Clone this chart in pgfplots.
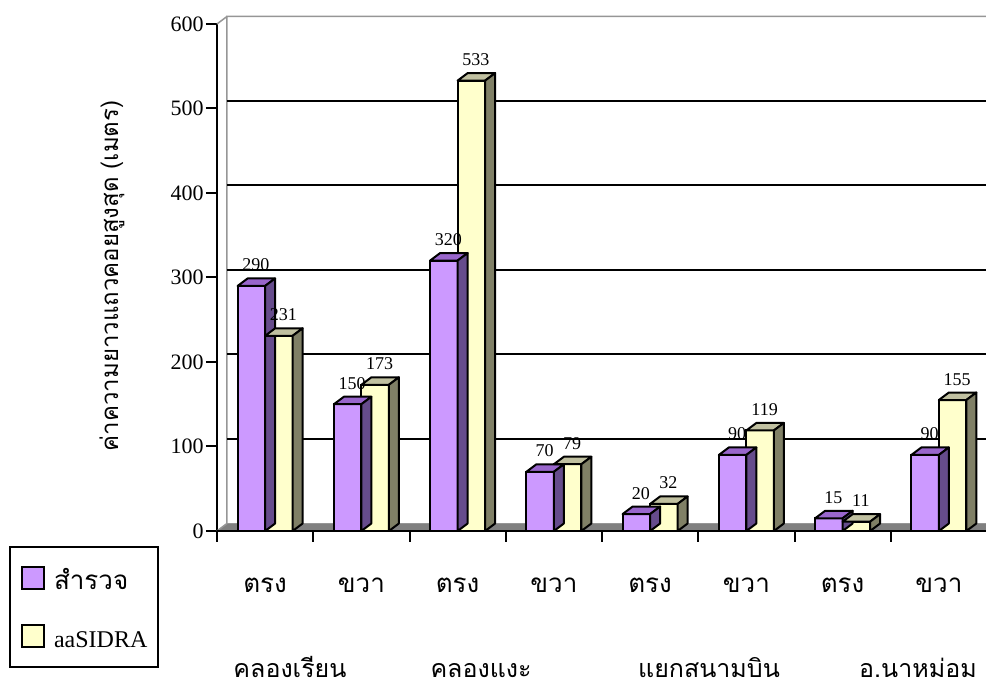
\documentclass[border=0pt]{standalone}
\usepackage{fontspec}
\setmainfont{Liberation Serif}
\newfontfamily\thaifont[Script=Thai]{Loma}
\usepackage{pgfplots}
\pgfplotsset{compat=1.18}
\usepackage{pgfplotstable}

\definecolor{surveyfront}{HTML}{CC99FF}
\definecolor{surveytop}{HTML}{9966CC}
\definecolor{surveyside}{HTML}{664C8C}
\definecolor{sidrafront}{HTML}{FFFFCC}
\definecolor{sidratop}{HTML}{C0C0A0}
\definecolor{sidraside}{HTML}{808066}
\definecolor{floorgrey}{HTML}{808080}
\definecolor{wallgrey}{HTML}{969696}

% maximum queue length (m): survey vs. aaSIDRA
\pgfplotstableread{
pos survey sidra
0 290 231
1 150 173
2 320 533
3 70 79
4 20 32
5 90 119
6 15 11
7 90 155
}\queuedata

% bar geometry
\def\barhalf{6.875pt}
\def\depthx{5pt}
\def\depthy{3.75pt}
\def\yunitnum{0.4225}

\pgfplotsset{
  front bar/.style n args={3}{% fill, bar shift, label shift
    ybar, bar width=13.75pt, bar shift=#2,
    fill=#1, draw=black, line width=1pt,
    nodes near coords,
    nodes near coords style={font=\fontsize{9}{10}\selectfont, anchor=base,
      xshift=#3, yshift=7.5pt, text=black, inner sep=0pt},
    legend image code/.code={\draw[fill=#1, draw=black, line width=1pt]
      (0pt,-5.5pt) rectangle (11pt,5.5pt);},
  },
  bar depth/.style n args={3}{% top colour, side colour, centre offset
    forget plot, only marks, scatter, point meta=y,
    mark=text, text mark={},
    visualization depends on={rawy \as \barval},
    scatter/@pre marker code/.code={%
      \pgfkeys{/pgf/fpu=true,/pgf/fpu/output format=fixed}%
      \pgfmathparse{\barval*\yunitnum}%
      \let\barhnum\pgfmathresult
      \pgfkeys{/pgf/fpu=false}%
      \filldraw[fill=#1, draw=black, line width=1pt, line join=round]
        (#3-\barhalf,0pt) -- ++(\depthx,\depthy) -- ++(2*\barhalf,0pt)
        -- ++(-\depthx,-\depthy) -- cycle;
      \filldraw[fill=#2, draw=black, line width=1pt, line join=round]
        (#3+\barhalf,0pt) -- ++(\depthx,\depthy) -- ++(0pt,-\barhnum pt)
        -- ++(-\depthx,-\depthy) -- cycle;
    },
    scatter/@post marker code/.code={},
  },
}

\begin{document}
\begin{tikzpicture}
\useasboundingbox (0pt,0pt) rectangle (493pt,341.5pt);
\begin{axis}[
  at={(108.5pt,76pt)}, anchor=south west,
  x=48.125pt, y=0.4225pt,
  xmin=-0.5, xmax=7.5, ymin=0, ymax=600,
  enlargelimits=false, clip=false,
  axis x line*=bottom, axis y line*=left,
  axis line style={line width=1pt, black},
  tick style={line width=1pt, black},
  tick align=outside, major tick length=5.5pt,
  ytick={0,100,...,600},
  xtick={-0.5,0.5,...,7.5}, xticklabels={},
  extra x ticks={0,...,7},
  extra x tick labels={ตรง,ขวา,ตรง,ขวา,ตรง,ขวา,ตรง,ขวา},
  extra x tick style={major tick length=0pt,
    xticklabel style={font=\thaifont\fontsize{13}{15}\selectfont,
      anchor=base, yshift=-31pt}},
  yticklabel style={font=\fontsize{11}{13}\selectfont, inner sep=1pt},
  /pgf/number format/assume math mode=true,
  legend style={at={(-0.2701,-0.2702)}, anchor=south west,
    draw=black, line width=1pt,
    inner xsep=5.5pt, inner ysep=9.5pt, row sep=17pt,
    nodes={inner sep=0pt, text height=12pt, text depth=0pt},
    /tikz/every odd column/.append style={column sep=4.5pt}},
  legend cell align=left,
]
% floor
\fill[floorgrey] (axis cs:-0.5,0) -- ([xshift=\depthx,yshift=\depthy]axis cs:-0.5,0)
  -- ([xshift=\depthx,yshift=\depthy]axis cs:7.5,0) -- (axis cs:7.5,0) -- cycle;
\draw[wallgrey, line width=0.75pt] ([xshift=\depthx,yshift=\depthy]axis cs:-0.5,0)
  -- ([xshift=\depthx,yshift=\depthy]axis cs:7.5,0);
% side and back walls
\draw[wallgrey, line width=0.75pt]
  (axis cs:-0.5,0) -- ([xshift=\depthx,yshift=\depthy]axis cs:-0.5,0)
  -- ([xshift=\depthx,yshift=\depthy]axis cs:-0.5,600)
  -- ([xshift=\depthx,yshift=\depthy]axis cs:7.5,600);
\draw[wallgrey, line width=0.75pt] (axis cs:-0.5,600)
  -- ([xshift=\depthx,yshift=\depthy]axis cs:-0.5,600);
% gridlines on the back wall
\pgfplotsinvokeforeach{100,200,...,500}{
  \draw[black, line width=1pt] ([xshift=\depthx,yshift=\depthy]axis cs:-0.5,#1)
    -- ([xshift=\depthx,yshift=\depthy]axis cs:7.5,#1);
}
\draw[black, line width=1pt] (axis cs:-0.5,0) -- (axis cs:7.5,0);

\addplot[front bar={surveyfront}{-\barhalf}{-4.625pt}] table[x=pos,y=survey]{\queuedata};
\addlegendentry{\thaifont\fontsize{13}{15}\selectfont สำรวจ}
\addplot[bar depth={surveytop}{surveyside}{-\barhalf}] table[x=pos,y=survey]{\queuedata};
\addplot[front bar={sidrafront}{\barhalf}{9.125pt}] table[x=pos,y=sidra]{\queuedata};
\addlegendentry{\fontsize{12}{14}\selectfont aaSIDRA}
\addplot[bar depth={sidratop}{sidraside}{\barhalf}] table[x=pos,y=sidra]{\queuedata};

% location names under each pair of approaches
\begin{scope}[font=\thaifont\fontsize{12.5}{15}\selectfont]
\node[anchor=base] at ([yshift=-73.5pt]axis cs:0.258,0) {คลองเรียน};
\node[anchor=base] at ([yshift=-73.5pt]axis cs:2.243,0) {คลองแงะ};
\node[anchor=base] at ([yshift=-73.5pt]axis cs:4.612,0) {แยกสนามบิน};
\node[anchor=base] at ([yshift=-73.5pt]axis cs:6.783,0) {อ.นาหม่อม};
\end{scope}
\end{axis}
\node[rotate=90, font=\thaifont\fontsize{12}{14}\selectfont] at (56pt,203.5pt)
  {ค่าความยาวแถวคอยสูงสุด (เมตร)};
\end{tikzpicture}
\end{document}
